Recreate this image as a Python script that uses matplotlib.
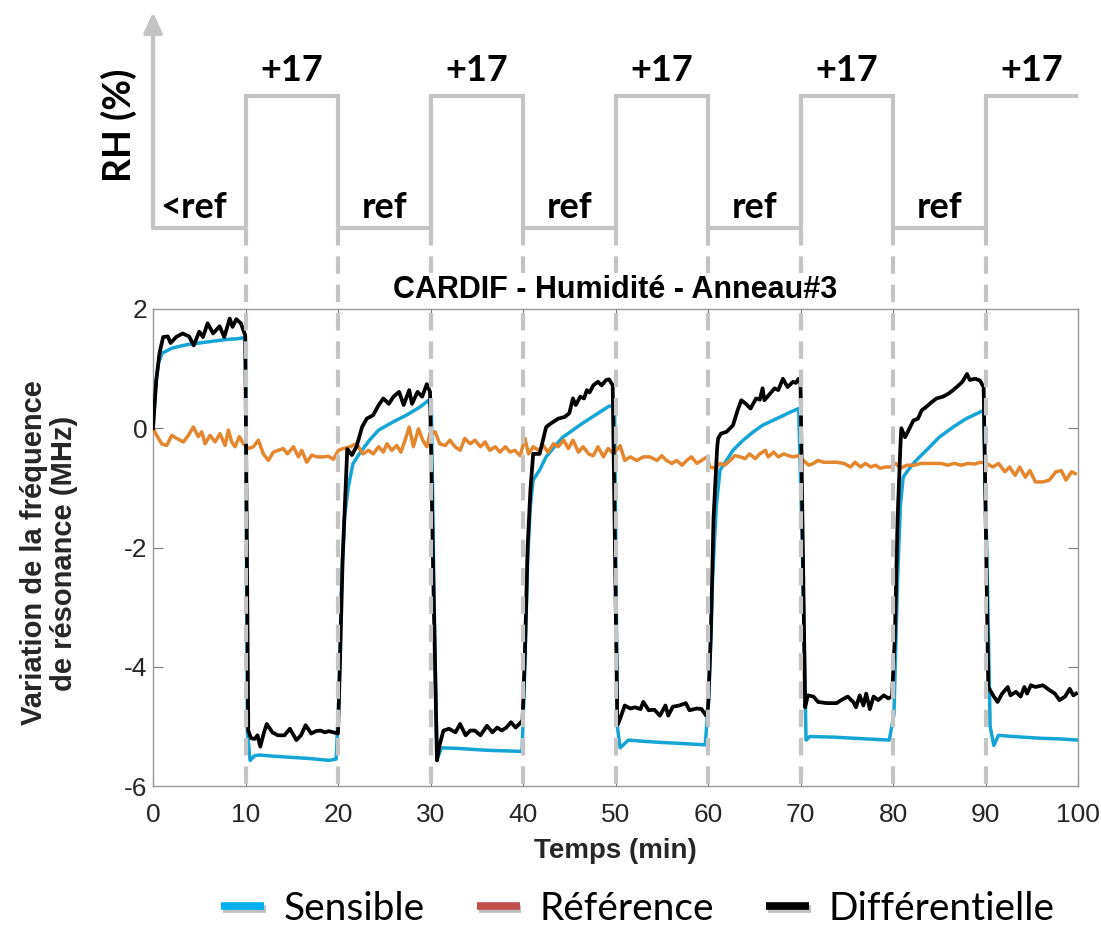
import matplotlib
matplotlib.use('Agg')
import matplotlib.pyplot as plt
import matplotlib.patheffects as pe
from matplotlib.lines import Line2D
from matplotlib import transforms

# --- humidity protocol (top panel) ---
rh_edges = [0, 10, 20, 30, 40, 50, 60, 70, 80, 90, 100]
rh_levels = [0, 17, 0, 17, 0, 17, 0, 17, 0, 17]
rh_labels = ['<ref', '+17', 'ref', '+17', 'ref', '+17', 'ref', '+17', 'ref', '+17']

# --- Sensible ---
t_sens = [0, 0.3, 0.6, 1.0, 2.0, 3.0, 4.0, 5.0, 6.0, 7.0, 8.0, 9.0, 10.0,
          10.2, 10.5, 11.0, 11.5, 13.0, 15.0, 17.0, 19.0, 19.8,
          20.1, 20.4, 20.7, 21.1, 21.6, 22.3, 23.4, 24.4, 26.0, 27.4, 28.9, 29.8,
          30.1, 30.4, 30.7, 31.2, 33.0, 36.0, 39.9,
          40.2, 40.5, 40.8, 41.1, 41.8, 42.5, 43.4, 44.3, 45.4, 46.4, 47.5, 48.6, 49.3, 49.9,
          50.2, 50.5, 51.4, 53.0, 55.0, 57.5, 59.7,
          60.1, 60.5, 60.9, 61.3, 62.0, 62.7, 63.8, 64.9, 65.9, 67.4, 68.9, 69.8,
          70.2, 70.6, 71.0, 73.5, 77.1, 79.6,
          80.1, 80.5, 80.8, 81.1, 81.6, 82.5, 83.6, 85.0, 86.5, 87.9, 89.4, 89.8,
          90.2, 90.5, 90.9, 91.4, 93.0, 96.0, 98.0, 100.0]
v_sens = [0.0, 0.75, 1.1, 1.26, 1.34, 1.38, 1.41, 1.43, 1.45, 1.47, 1.49, 1.50, 1.52,
          -5.1, -5.57, -5.49, -5.48, -5.50, -5.52, -5.54, -5.57, -5.55,
          -4.5, -2.5, -1.5, -1.0, -0.6, -0.43, -0.2, -0.03, 0.11, 0.22, 0.36, 0.47,
          0.3, -3.0, -5.55, -5.36, -5.37, -5.40, -5.42,
          -4.0, -2.2, -1.3, -0.87, -0.70, -0.48, -0.31, -0.15, -0.03, 0.08, 0.19, 0.30, 0.37, 0.38,
          -5.0, -5.36, -5.23, -5.25, -5.27, -5.29, -5.31,
          -4.5, -2.5, -1.3, -0.70, -0.54, -0.37, -0.2, -0.06, 0.05, 0.16, 0.27, 0.33,
          -2.0, -5.23, -5.17, -5.18, -5.21, -5.23,
          -4.8, -2.5, -1.3, -0.82, -0.71, -0.54, -0.37, -0.15, 0.02, 0.16, 0.27, 0.30,
          -2.5, -5.0, -5.32, -5.15, -5.17, -5.2, -5.21, -5.23]

# --- Référence ---
t_ref = [0.0, 0.4, 0.94, 1.48, 2.02, 2.56, 3.28, 3.82, 4.36, 4.9, 5.27, 5.63, 6.17, 6.71, 7.25, 7.79, 8.15, 8.51, 8.87, 9.34, 9.77,
         10.31, 10.85, 11.39, 11.93, 12.47, 13.01, 13.55, 14.09, 14.53, 15.18, 15.72, 16.08, 16.62, 17.16, 17.7, 18.42, 18.96, 19.5,
         20.04, 20.58, 21.3, 22.0, 22.7, 23.3, 23.8, 24.4, 24.9, 25.3, 25.8, 26.35, 26.8, 27.25, 27.7, 28.15, 28.7, 29.16, 29.6, 29.95,
         30.5, 31.0, 31.6, 32.1, 32.65, 33.2, 33.7, 34.3, 34.8, 35.4, 35.9, 36.4, 37.0, 37.5, 38.1, 38.6, 39.1, 39.7,
         40.2, 40.6, 41.1, 41.7, 42.2, 42.7, 43.3, 43.8, 44.4, 44.9, 45.4, 46.0, 46.5, 47.1, 47.6, 48.1, 48.7, 49.2, 49.8,
         50.1, 50.5, 51.0, 51.6, 52.3, 53.0, 53.7, 54.5, 55.0, 55.5, 56.1, 56.6, 57.2, 57.7, 58.2, 58.8, 59.3, 59.9,
         60.2, 60.8, 61.3, 61.8, 62.4, 62.9, 63.5, 64.0, 64.5, 65.1, 65.6, 66.2, 66.5, 67.1, 67.6, 68.2, 68.7, 69.2, 69.8,
         70.3, 70.9, 71.4, 71.9, 72.5, 73.2, 73.9, 74.7, 75.4, 75.9, 76.5, 77.0, 77.6, 78.1, 78.6, 79.2, 79.7,
         80.3, 80.8, 81.5, 82.3, 83.0, 83.7, 84.4, 85.2, 85.9, 86.6, 87.4, 88.1, 88.8, 89.5,
         90.1, 90.8, 91.4, 92.1, 92.6, 93.2, 93.7, 94.3, 94.8, 95.4, 96.2, 96.9, 97.6, 98.2, 98.7, 99.3, 99.7]
v_ref = [0.0, -0.12, -0.26, -0.29, -0.12, -0.17, -0.23, -0.12, 0.02, -0.14, -0.06, -0.26, -0.12, -0.23, -0.09, -0.29, -0.03, -0.23, -0.31, -0.14, -0.26,
         -0.34, -0.31, -0.20, -0.43, -0.54, -0.40, -0.37, -0.34, -0.43, -0.31, -0.48, -0.37, -0.57, -0.45, -0.48, -0.48, -0.47, -0.52,
         -0.37, -0.34, -0.31, -0.26, -0.43, -0.37, -0.43, -0.31, -0.40, -0.26, -0.37, -0.29, -0.40, -0.20, 0.02, -0.31, -0.01, -0.20, -0.31, -0.09,
         -0.06, -0.26, -0.29, -0.20, -0.31, -0.37, -0.17, -0.26, -0.20, -0.31, -0.23, -0.37, -0.31, -0.40, -0.31, -0.40, -0.37, -0.46,
         -0.17, -0.43, -0.31, -0.37, -0.29, -0.40, -0.26, -0.31, -0.20, -0.34, -0.20, -0.40, -0.31, -0.43, -0.46, -0.31, -0.48, -0.34, -0.43,
         -0.37, -0.29, -0.54, -0.48, -0.54, -0.48, -0.48, -0.54, -0.46, -0.54, -0.59, -0.54, -0.62, -0.54, -0.48, -0.59, -0.54, -0.48,
         -0.65, -0.67, -0.59, -0.62, -0.54, -0.46, -0.48, -0.51, -0.43, -0.51, -0.43, -0.37, -0.48, -0.40, -0.48, -0.43, -0.46, -0.48, -0.46,
         -0.54, -0.62, -0.59, -0.54, -0.57, -0.57, -0.57, -0.59, -0.65, -0.57, -0.65, -0.59, -0.65, -0.62, -0.67, -0.65, -0.65,
         -0.59, -0.67, -0.62, -0.62, -0.59, -0.59, -0.59, -0.59, -0.62, -0.59, -0.62, -0.59, -0.60, -0.57,
         -0.59, -0.65, -0.59, -0.73, -0.65, -0.79, -0.65, -0.82, -0.71, -0.90, -0.90, -0.87, -0.73, -0.71, -0.87, -0.73, -0.76]

# --- Différentielle ---
t_diff = [0, 0.35, 0.7, 1.1, 1.6, 1.9, 2.5, 3.2, 3.9, 4.4, 5.0, 5.4, 5.9, 6.5, 7.2, 7.7, 8.3, 8.6, 9.0, 9.5, 9.97,
          10.3, 10.6, 11.0, 11.3, 11.6, 12.0, 12.3, 12.9, 13.5, 14.2, 14.8, 15.5, 16.0, 16.5, 17.1, 17.6, 18.1, 18.6, 19.0, 19.5, 20.0,
          20.2, 20.5, 20.8, 21.0, 21.5, 22.0, 22.6, 23.1, 23.8, 24.4, 24.9, 25.5, 26.0, 26.6, 27.1, 27.7, 28.0, 28.6, 29.1, 29.6, 29.95,
          30.3, 30.7, 31.0, 31.4, 32.0, 32.7, 33.2, 33.8, 34.3, 34.8, 35.4, 36.1, 36.7, 37.2, 37.7, 38.2, 38.7, 39.2, 39.6, 39.95,
          40.2, 40.5, 40.8, 41.1, 41.8, 42.5, 43.0, 43.8, 44.5, 45.0, 45.4, 45.7, 46.2, 46.6, 46.9, 47.2, 47.6, 48.1, 48.5, 49.0, 49.3, 49.7,
          50.2, 50.5, 51.0, 51.6, 52.1, 52.7, 53.0, 53.6, 54.2, 54.8, 55.4, 55.7, 56.2, 56.9, 57.6, 58.0, 58.8, 59.3, 59.8, 60.0,
          60.3, 60.6, 61.0, 61.1, 61.4, 62.0, 62.7, 63.2, 63.6, 64.1, 64.6, 65.2, 65.6, 65.9, 66.1, 66.7, 67.2, 67.6, 68.1, 68.6, 69.2, 69.5, 69.8, 70.0,
          70.5, 70.8, 71.4, 71.9, 72.8, 73.9, 74.4, 75.1, 75.7, 76.0, 76.4, 76.8, 77.1, 77.5, 77.9, 78.4, 79.0, 79.5, 79.9,
          80.2, 80.5, 80.8, 80.9, 81.3, 81.6, 82.2, 82.7, 83.1, 83.6, 84.2, 84.7, 85.4, 86.0, 86.5, 87.1, 87.5, 88.0, 88.3, 88.9, 89.4, 89.8,
          90.3, 90.9, 91.3, 91.8, 92.4, 92.7, 93.3, 93.8, 94.2, 94.5, 94.9, 95.4, 96.2, 96.9, 97.5, 98.0, 98.6, 99.1, 99.5, 99.8]
v_diff = [0.0, 0.8, 1.26, 1.53, 1.54, 1.43, 1.53, 1.59, 1.54, 1.39, 1.62, 1.53, 1.76, 1.59, 1.71, 1.53, 1.84, 1.70, 1.83, 1.76, 1.56,
          -5.07, -5.20, -5.21, -5.15, -5.34, -5.10, -4.96, -5.10, -5.15, -5.15, -5.04, -5.23, -5.15, -4.98, -5.12, -5.08, -5.07, -5.10, -5.08, -5.10, -5.12,
          -4.0, -2.2, -1.1, -0.35, -0.45, -0.31, 0.02, 0.16, 0.22, 0.39, 0.50, 0.41, 0.53, 0.61, 0.39, 0.64, 0.41, 0.61, 0.53, 0.74, 0.61,
          -2.5, -5.57, -5.30, -5.07, -5.04, -5.10, -4.96, -5.15, -5.07, -5.07, -5.15, -4.99, -5.10, -5.02, -5.07, -5.02, -4.93, -5.02, -4.96, -4.90,
          -3.8, -2.0, -1.04, -0.43, -0.43, 0.02, 0.08, 0.16, 0.19, 0.25, 0.50, 0.39, 0.53, 0.50, 0.64, 0.60, 0.72, 0.78, 0.72, 0.81, 0.82, 0.72,
          -4.98, -4.87, -4.65, -4.70, -4.68, -4.71, -4.59, -4.73, -4.72, -4.82, -4.65, -4.82, -4.67, -4.65, -4.61, -4.73, -4.70, -4.71, -4.82, -4.70,
          -3.5, -1.5, -0.3, -0.17, -0.09, -0.06, 0.05, 0.30, 0.47, 0.41, 0.33, 0.50, 0.48, 0.67, 0.47, 0.58, 0.67, 0.64, 0.83, 0.69, 0.78, 0.76, 0.83, 0.75,
          -4.68, -4.48, -4.50, -4.59, -4.61, -4.61, -4.56, -4.50, -4.59, -4.68, -4.48, -4.65, -4.45, -4.71, -4.50, -4.56, -4.48, -4.53, -4.50,
          -3.5, -1.5, -0.3, 0.0, -0.15, -0.06, 0.13, 0.16, 0.30, 0.36, 0.44, 0.50, 0.53, 0.58, 0.64, 0.72, 0.78, 0.91, 0.81, 0.83, 0.80, 0.69,
          -4.34, -4.50, -4.59, -4.45, -4.34, -4.48, -4.42, -4.50, -4.34, -4.45, -4.31, -4.34, -4.31, -4.39, -4.45, -4.56, -4.50, -4.37, -4.48, -4.45]

series_names = ['Sensible', 'Référence', 'Différentielle']
line_colors = ['#14a5d6', '#e3862e', '#000000']
legend_colors = ['#00b0f0', '#c0504d', '#000000']

plt.rcParams['font.family'] = ['Liberation Sans', 'DejaVu Sans']
plt.rcParams['axes.unicode_minus'] = False

W, H = 1101, 925
fig = plt.figure(figsize=(W / 100, H / 100), dpi=100, facecolor='w')

GRAY = '#c4c4c4'
TXT = '#262626'

# main axes
ax = fig.add_axes([153 / W, 1 - 786 / H, (1078 - 153) / W, (786 - 309) / H])
ax.plot(t_sens, v_sens, color=line_colors[0], lw=2.5, zorder=2)
ax.plot(t_ref, v_ref, color=line_colors[1], lw=2.5, zorder=3)
ax.plot(t_diff, v_diff, color=line_colors[2], lw=2.7, zorder=4)
ax.set_xlim(0, 100)
ax.set_ylim(-6, 2)
ax.set_xticks(range(0, 101, 10))
ax.set_yticks([-6, -4, -2, 0, 2])
for s in ax.spines.values():
    s.set_color('#9a9a9a')
    s.set_linewidth(1.0)
ax.tick_params(direction='in', length=7, width=0.8, color='#777777',
               labelsize=19, labelcolor=TXT, top=True, right=True)
ax.tick_params(axis='x', pad=12)
ax.tick_params(axis='y', pad=4)
ax.set_xlabel('Temps (min)', fontsize=20, fontweight='bold', color=TXT)
ax.xaxis.set_label_coords(0.5, (786 - 838) / 477)
ax.set_ylabel('Variation de la fréquence\nde résonance (MHz)', fontsize=21,
              fontweight='bold', color=TXT, linespacing=1.1)
ax.yaxis.label.set_va('center')
ax.yaxis.set_label_coords((49 - 153) / 925, (786 - 553) / 477)

# RH protocol panel
ax_rh = fig.add_axes([153 / W, 1 - 240 / H, (1078 - 153) / W, 230 / H])
ax_rh.set_xlim(0, 100)
ax_rh.set_ylim(-1.55, 28.1)
ax_rh.axis('off')
ax_rh.stairs(rh_levels, rh_edges, baseline=None, color=GRAY, lw=3, clip_on=False)
ax_rh.annotate('', xy=(0, 27.8), xytext=(0, 0),
               arrowprops=dict(arrowstyle='-|>,head_width=0.28,head_length=0.6',
                               color=GRAY, lw=3, shrinkA=0, shrinkB=0,
                               mutation_scale=20))
for i, lab in enumerate(rh_labels):
    xc = (rh_edges[i] + rh_edges[i + 1]) / 2
    if lab == '<ref':
        xc = rh_edges[i] + 4.4
    yb = rh_levels[i] + (2.0 if rh_levels[i] > 0 else 1.3)
    ax_rh.text(xc, yb, lab, ha='center', va='baseline', fontsize=26,
               fontweight='bold', family=['Lato', 'DejaVu Sans'], color='black')
fig.text(119 / W, 1 - 125 / H, 'RH (%)', rotation=90, ha='center', va='center',
         fontsize=27, fontweight='bold', family=['Lato', 'DejaVu Sans'])

# dashed separators from the RH panel down to the bottom of the main axes
fig.canvas.draw()
y_top = fig.transFigure.inverted().transform(ax_rh.transData.transform((0, 0)))[1]
y_bot = ax.get_position().y0
blend = transforms.blended_transform_factory(ax.transData, fig.transFigure)
for t in rh_edges[1:-1]:
    fig.add_artist(Line2D([t, t], [y_top, y_bot], transform=blend, color=GRAY,
                          lw=3, dashes=(4.2, 2.6), zorder=4))

fig.text(615.5 / W, 1 - 290 / H, 'CARDIF - Humidité - Anneau#3', ha='center',
         va='center', fontsize=22, fontweight='bold', color='black', zorder=6,
         bbox=dict(fc='white', ec='none', pad=1))

# legend
handles = [Line2D([], [], color=c, lw=5.5, solid_capstyle='butt',
                  path_effects=[pe.SimpleLineShadow(offset=(1, -2), alpha=0.25), pe.Normal()])
           for c in legend_colors]
fig.legend(handles, series_names, loc='center', bbox_to_anchor=(638 / W, 1 - 909 / H),
           ncol=3, frameon=False, handlelength=1.1, handletextpad=0.5,
           columnspacing=1.35, prop={'family': ['Lato', 'DejaVu Sans'], 'size': 28})

fig.savefig('out.png', dpi=100, facecolor='w')
